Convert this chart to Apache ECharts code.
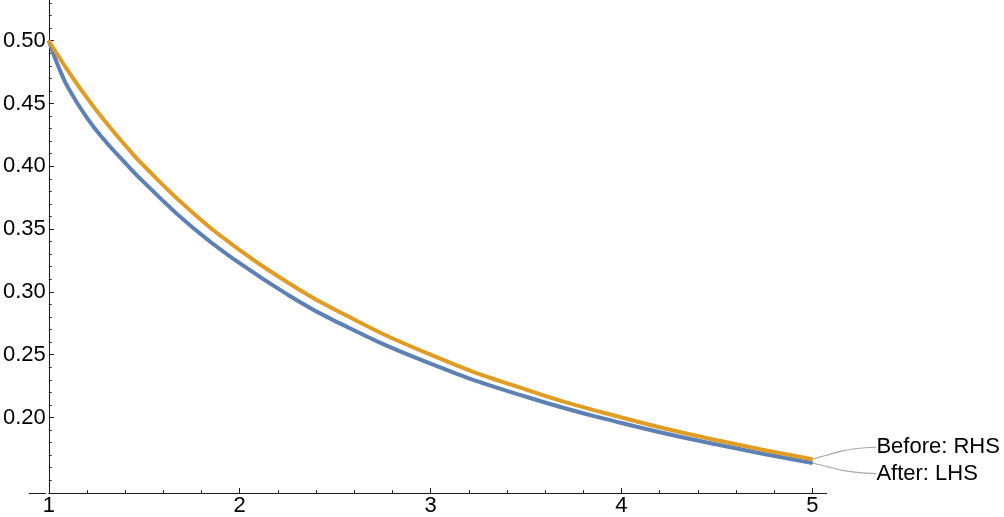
<!DOCTYPE html>
<html>
<head>
<meta charset="utf-8">
<script src="https://cdn.jsdelivr.net/npm/echarts@6/dist/echarts.min.js"></script>
<style>
  html, body { margin: 0; padding: 0; background: #fff; }
  #chart { width: 1004px; height: 517px; }
</style>
</head>
<body>
<div id="chart"></div>
<script>
// x positions sampled along both curves
var xs = [1, 1.025, 1.05, 1.1, 1.2, 1.3, 1.4, 1.5, 1.75, 2, 2.25, 2.5, 3, 3.5, 4, 4.5, 5];
// Before: RHS (orange)
var rhs = [0.5, 0.4938, 0.4878, 0.4762, 0.4545, 0.4348, 0.4167, 0.4, 0.3636, 0.3333, 0.3077, 0.2857, 0.25, 0.2222, 0.2, 0.1818, 0.1667];
// After: LHS (blue)
var lhs = [0.5, 0.4892, 0.4795, 0.4628, 0.4385, 0.4193, 0.4027, 0.387, 0.3516, 0.3228, 0.2979, 0.2767, 0.2428, 0.2165, 0.1956, 0.1784, 0.1637];

var xTicks = [1, 2, 3, 4, 5];
var xMinor = [1.2, 1.4, 1.6, 1.8, 2.2, 2.4, 2.6, 2.8, 3.2, 3.4, 3.6, 3.8, 4.2, 4.4, 4.6, 4.8];
var yTicks = [0.20, 0.25, 0.30, 0.35, 0.40, 0.45, 0.50];
var yMinor = [0.15, 0.16, 0.17, 0.18, 0.19, 0.21, 0.22, 0.23, 0.24, 0.26, 0.27, 0.28, 0.29,
  0.31, 0.32, 0.33, 0.34, 0.36, 0.37, 0.38, 0.39, 0.41, 0.42, 0.43, 0.44, 0.46, 0.47, 0.48, 0.49,
  0.51, 0.52, 0.53];

var AXIS = '#1a1a1a';
var FONT = '"Liberation Sans", Arial, sans-serif';

function buildData (ys, name) {
  var out = [];
  for (var i = 0; i < xs.length; i++) {
    var item = { value: [xs[i], ys[i]] };
    if (i === xs.length - 1) {
      item.label = { show: true, formatter: name };
    }
    out.push(item);
  }
  return out;
}

function curve (name, ys, color, dy) {
  return {
    name: name,
    type: 'line',
    xAxisIndex: 0,
    yAxisIndex: 0,
    smooth: true,
    showSymbol: true,
    showAllSymbol: true,
    symbol: 'circle',
    symbolSize: 2,
    itemStyle: { color: color },
    lineStyle: { color: color, width: 4 },
    label: {
      show: false,
      position: 'right',
      distance: 0,
      padding: [0, 0, 0, 5],
      color: '#000',
      fontSize: 22,
      fontFamily: FONT
    },
    labelLine: {
      show: true,
      smooth: 0.5,
      length2: 22,
      lineStyle: { color: '#a8a8a8', width: 1.2 }
    },
    labelLayout: function () {
      return { dx: 58, dy: dy };
    },
    emphasis: { disabled: true },
    data: buildData(ys, name)
  };
}

var chart = echarts.init(document.getElementById('chart'));
chart.setOption({
  animation: false,
  backgroundColor: '#fff',
  grid: [
    { left: 45.5, width: 781.2, top: 0, bottom: 23.7 },
    { left: 29.3, width: 16.2, top: 0, bottom: 23.7 }
  ],
  xAxis: [
    {
      type: 'value', gridIndex: 0, min: 1, max: 5.075, position: 'bottom',
      axisLine: { show: true, lineStyle: { color: AXIS, width: 1 } },
      axisTick: { show: true, inside: true, length: 5, customValues: xTicks, lineStyle: { color: AXIS } },
      axisLabel: {
        show: true, customValues: xTicks, margin: 2, color: '#000',
        fontSize: 22, fontFamily: FONT,
        formatter: function (v) { return String(v); }
      },
      splitLine: { show: false }
    },
    {
      type: 'value', gridIndex: 0, min: 1, max: 5.075, position: 'bottom',
      axisLine: { show: false },
      axisTick: { show: true, inside: true, length: 2.8, customValues: xMinor, lineStyle: { color: AXIS } },
      axisLabel: { show: false },
      splitLine: { show: false }
    },
    {
      type: 'value', gridIndex: 1, min: 0, max: 1,
      axisLine: { show: true, lineStyle: { color: AXIS, width: 1 } },
      axisTick: { show: false },
      axisLabel: { show: false },
      splitLine: { show: false }
    }
  ],
  yAxis: [
    {
      type: 'value', gridIndex: 0, min: 0.13984, max: 0.53239, position: 'left',
      axisLine: { show: true, lineStyle: { color: AXIS, width: 1 } },
      axisTick: { show: true, inside: true, length: 5, customValues: yTicks, lineStyle: { color: AXIS } },
      axisLabel: {
        show: true, customValues: yTicks, margin: 3, color: '#000',
        fontSize: 22, fontFamily: FONT,
        formatter: function (v) { return v.toFixed(2); }
      },
      splitLine: { show: false }
    },
    {
      type: 'value', gridIndex: 0, min: 0.13984, max: 0.53239, position: 'left',
      axisLine: { show: false },
      axisTick: { show: true, inside: true, length: 2.8, customValues: yMinor, lineStyle: { color: AXIS } },
      axisLabel: { show: false },
      splitLine: { show: false }
    },
    {
      type: 'value', gridIndex: 1, min: 0, max: 1, show: false
    }
  ],
  series: [
    curve('After: LHS', lhs, '#5e81b5', 10.5),
    curve('Before: RHS', rhs, '#e19c24', -12)
  ]
});
</script>
</body>
</html>
